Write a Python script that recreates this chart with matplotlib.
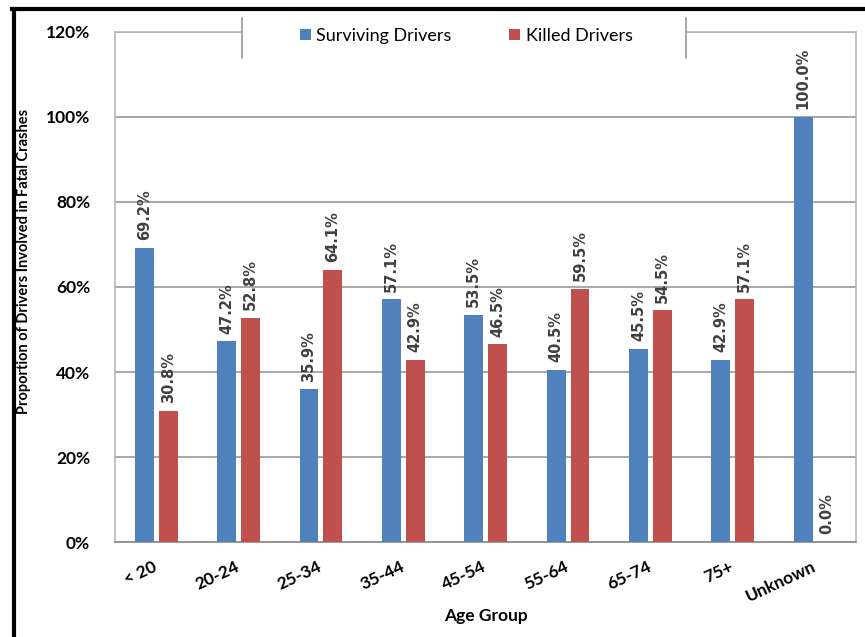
import numpy as np
import matplotlib.pyplot as plt
from matplotlib.lines import Line2D
from matplotlib.patches import Rectangle

plt.rcParams['font.family'] = ['Lato', 'DejaVu Sans']

age_groups = ['< 20', '20-24', '25-34', '35-44', '45-54', '55-64', '65-74', '75+', 'Unknown']
surviving = [69.2, 47.2, 35.9, 57.1, 53.5, 40.5, 45.5, 42.9, 100.0]
killed = [30.8, 52.8, 64.1, 42.9, 46.5, 59.5, 54.5, 57.1, 0.0]
y_ticks = [0, 20, 40, 60, 80, 100, 120]

blue = '#4F81BD'
red = '#C0504D'

fig = plt.figure(figsize=(8.65, 6.37), dpi=100)
ax = fig.add_axes([0.133, 0.149, 0.857, 0.801])

x = np.arange(len(age_groups))
w = 0.23
off = 0.145
b1 = ax.bar(x - off, surviving, w, color=blue, label='Surviving Drivers', zorder=3)
b2 = ax.bar(x + off, killed, w, color=red, label='Killed Drivers', zorder=3)

# data labels, rotated
for bars, vals in ((b1, surviving), (b2, killed)):
    for r, v in zip(bars, vals):
        ax.text(r.get_x() + r.get_width() / 2, v + 1.8, '%.1f%%' % v,
                rotation=90, ha='center', va='bottom', fontsize=10.5,
                fontweight='semibold', color='#404040', family='DejaVu Sans', zorder=4)

ax.set_xlim(-0.5, len(age_groups) - 0.5)
ax.set_ylim(0, 120)
ax.set_yticks(y_ticks)
ax.set_yticklabels(['%d%%' % t for t in y_ticks], fontsize=12.5, fontweight='bold')
ax.set_xticks(x)
ax.set_xticklabels(age_groups, rotation=25, ha='right', va='center',
                   rotation_mode='anchor', fontsize=12.5, fontweight='bold')
ax.tick_params(length=0)
ax.tick_params(axis='y', pad=18)
ax.tick_params(axis='x', pad=17)
ax.yaxis.grid(True, color='#9a9a9a', linewidth=1.2, zorder=0)
ax.set_axisbelow(True)
for s in ax.spines.values():
    s.set_color('#b8b8b8')
    s.set_linewidth(1.2)
ax.spines['bottom'].set_color('#8a8a8a')

ax.set_xlabel('Age Group', fontsize=12.5, fontweight='bold', labelpad=2)
ax.set_ylabel('Proportion of Drivers Involved in Fatal Crashes', fontsize=10.5,
              fontweight='bold')
ax.yaxis.set_label_coords(-0.113, 0.55)

# white legend box covering the top line, with only its side edges
ax.add_patch(Rectangle((242 / 865, 1 - 58 / 637), 444 / 865, 40 / 637,
                       transform=fig.transFigure, clip_on=False,
                       facecolor='white', edgecolor='none', zorder=5))
for xl in (242, 686):
    ax.add_line(Line2D([xl / 865, xl / 865], [1 - 18 / 637, 1 - 58 / 637],
                       transform=fig.transFigure, clip_on=False,
                       color='#9a9a9a', linewidth=1.2, zorder=6))
leg = ax.legend(loc='center', bbox_to_anchor=(0.474, 0.992), ncol=2, frameon=False,
                fontsize=13, handlelength=0.6, handleheight=0.6, columnspacing=3.2,
                handletextpad=0.3)
leg.set_zorder(7)

# outer black border (left and top)
fig.add_artist(Line2D([13.5 / 865, 13.5 / 865], [0, 1 - 8.5 / 637], color='black', linewidth=3))
fig.add_artist(Line2D([12 / 865, 1], [1 - 8.5 / 637, 1 - 8.5 / 637], color='black', linewidth=3))

fig.savefig('out.png', dpi=100)
